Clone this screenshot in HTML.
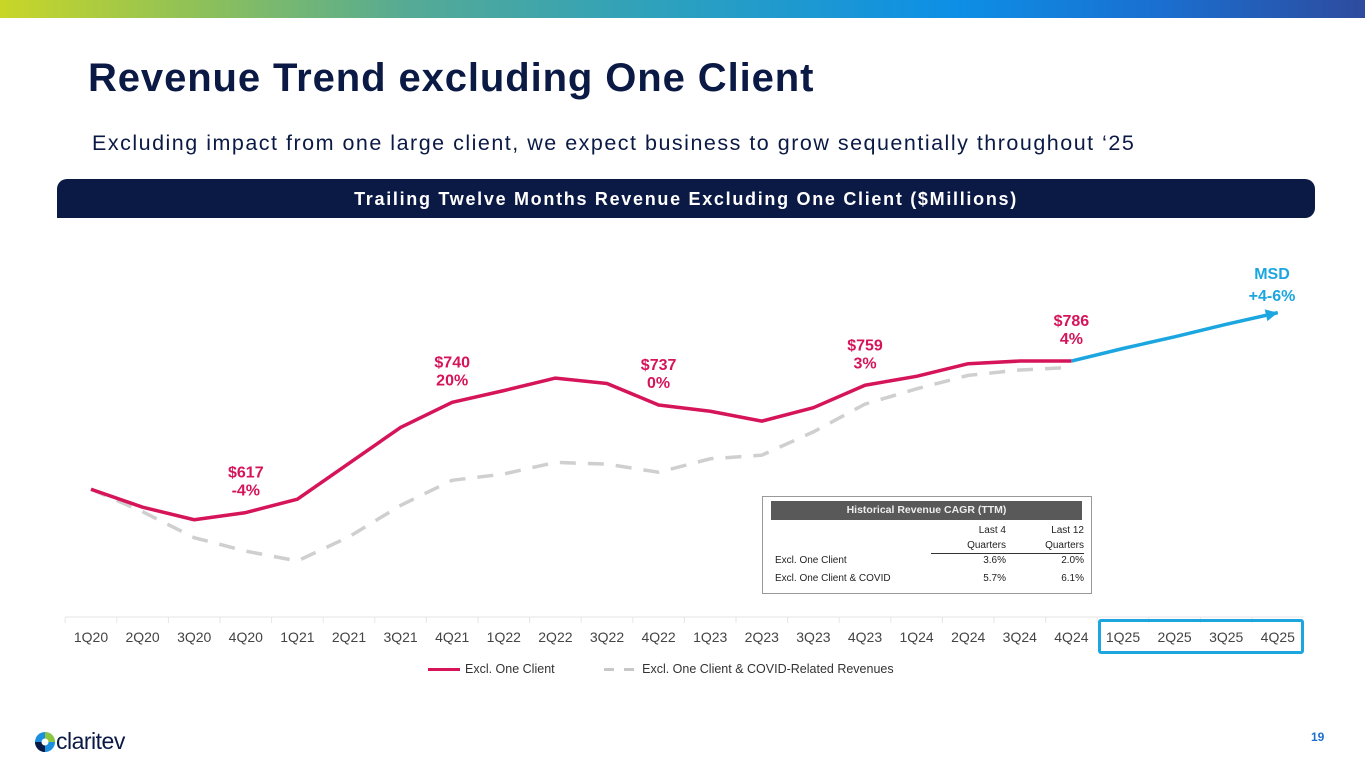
<!DOCTYPE html>
<html><head><meta charset="utf-8"><style>
body{margin:0;width:1365px;height:768px;overflow:hidden;background:#fff;font-family:"Liberation Sans",sans-serif;position:relative}
.abs{position:absolute}
</style></head><body>
<div class="abs" style="left:0;top:0;width:1365px;height:18px;background:linear-gradient(90deg,#c9d627 0%,#8cc05a 15%,#55aa95 30%,#2aa0c0 50%,#0d8fe6 70%,#1a6fd0 85%,#2e4b9e 100%)"></div>
<div class="abs" style="left:88px;top:56px;font-size:40px;font-weight:bold;color:#0b1a45;letter-spacing:0.9px;white-space:nowrap">Revenue Trend excluding One Client</div>
<div class="abs" style="left:92px;top:131px;font-size:21.5px;color:#0b1a45;letter-spacing:1.5px;white-space:nowrap">Excluding impact from one large client, we expect business to grow sequentially throughout ‘25</div>
<div class="abs" style="left:57px;top:179px;width:1258px;height:39px;background:#0b1a45;border-radius:10px 10px 10px 0;color:#fff;font-weight:bold;font-size:18px;letter-spacing:1.7px;text-align:center;line-height:40px">Trailing Twelve Months Revenue Excluding One Client ($Millions)</div>

<svg class="abs" style="left:0;top:0" width="1365" height="768">
<g id="axis"></g><g id="marks"></g><g id="labels"></g>
</svg>

<div class="abs" style="left:762px;top:496px;width:330px;height:98px;border:1px solid #999;box-sizing:border-box;font-size:10px;color:#222;line-height:12px">
 <div style="margin:4px 9px 0 8px;height:19px;background:#595959;color:#eee;font-weight:bold;text-align:center;line-height:19px;font-size:10.5px">Historical Revenue CAGR (TTM)</div>
 <div class="abs" style="left:180px;top:26px;width:63px;text-align:right;line-height:15px">Last 4<br>Quarters</div>
 <div class="abs" style="left:255px;top:26px;width:66px;text-align:right;line-height:15px">Last 12<br>Quarters</div>
 <div class="abs" style="left:168px;top:56px;width:153px;border-top:1px solid #333"></div>
 <div class="abs" style="left:12px;top:58px">Excl. One Client</div>
 <div class="abs" style="left:180px;top:58px;width:63px;text-align:right">3.6%</div>
 <div class="abs" style="left:255px;top:58px;width:66px;text-align:right">2.0%</div>
 <div class="abs" style="left:12px;top:76px">Excl. One Client &amp; COVID</div>
 <div class="abs" style="left:180px;top:76px;width:63px;text-align:right">5.7%</div>
 <div class="abs" style="left:255px;top:76px;width:66px;text-align:right">6.1%</div>
</div>

<div class="abs" style="left:1098px;top:619px;width:206px;height:35px;border:3px solid #1ba6e0;border-radius:3px;box-sizing:border-box"></div>

<div class="abs" style="left:428px;top:662px;font-size:12.5px;color:#333;white-space:nowrap">
 <span><span style="display:inline-block;width:32px;height:3px;background:#d6145a;vertical-align:middle;margin-right:5px"></span>Excl. One Client</span>
 <span style="margin-left:46px"><span style="display:inline-block;width:10px;height:3px;background:#c8c8c8;vertical-align:middle;margin-right:10px"></span><span style="display:inline-block;width:10px;height:3px;background:#c8c8c8;vertical-align:middle;margin-right:8px"></span>Excl. One Client &amp; COVID-Related Revenues</span>
</div>

<div class="abs" style="left:34px;top:728px;height:24px;white-space:nowrap">
 <svg width="22" height="22" style="vertical-align:middle"><circle cx="11" cy="11" r="10" fill="#1a8fe0"/><path d="M11 1 A10 10 0 0 1 21 11 L11 11Z" fill="#8cc63f"/><path d="M1 11 A10 10 0 0 0 11 21 L11 11Z" fill="#0b1a45"/><circle cx="11" cy="11" r="3.5" fill="#fff"/></svg><span style="font-size:23px;color:#0b1a45;vertical-align:middle;letter-spacing:-0.5px">claritev</span>
</div>
<div class="abs" style="left:1311px;top:730px;font-size:12px;font-weight:bold;color:#1a6fd0">19</div>

<script>
const categories=["1Q20","2Q20","3Q20","4Q20","1Q21","2Q21","3Q21","4Q21","1Q22","2Q22","3Q22","4Q22","1Q23","2Q23","3Q23","4Q23","1Q24","2Q24","3Q24","4Q24","1Q25","2Q25","3Q25","4Q25"];
const exclOneClient=[643,623,609,617,632,672,712,740,753,767,761,737,730,719,734,759,769,783,786,786];
const exclCovid=[643,618,589,574,563,590,625,653,660,673,671,662,677,681,707,738,755,770,776,779];
const forecastStartIdx=19;
const forecast=[786,800,813,827,840];
const annotations=[{i:3,v:617,t1:"$617",t2:"-4%"},{i:7,v:740,t1:"$740",t2:"20%"},{i:11,v:737,t1:"$737",t2:"0%"},{i:15,v:759,t1:"$759",t2:"3%"},{i:19,v:786,t1:"$786",t2:"4%"}];
const NS="http://www.w3.org/2000/svg";
const x=i=>91+i*51.6;
const y=v=>617.5-(v-500)*0.8967;
function mk(tag,attrs,parent){const e=document.createElementNS(NS,tag);for(const k in attrs)e.setAttribute(k,attrs[k]);document.getElementById(parent).appendChild(e);return e;}
const ax=mk('line',{x1:65,x2:1304,y1:617,y2:617,stroke:'#e6e6e6','stroke-width':1},'axis');


categories.forEach((c,i)=>{
 const tk=mk('line',{x1:x(i)-25.8,x2:x(i)-25.8,y1:617,y2:623,stroke:'#e6e6e6'},'axis');
 
 
 const t=mk('text',{x:x(i),y:642,'text-anchor':'middle','font-size':14,fill:'#444','font-family':'Liberation Sans'},'axis');
 t.textContent=c;
 
 
});
const pts=a=>a.map((v,i)=>x(i)+','+y(v)).join(' ');
const g=mk('polyline',{points:pts(exclCovid),fill:'none',stroke:'#cfcfcf','stroke-width':3.5,'stroke-dasharray':'16 12'},'marks');


const r=mk('polyline',{points:pts(exclOneClient),fill:'none',stroke:'#d6145a','stroke-width':3.5,'stroke-linejoin':'round'},'marks');


const fp=forecast.map((v,k)=>x(forecastStartIdx+k)+','+y(v)).join(' ');
const b=mk('polyline',{points:fp,fill:'none',stroke:'#1ba6e0','stroke-width':3.5},'marks');


const n=forecast.length-1,ex=x(forecastStartIdx+n),ey=y(forecast[n]),px=x(forecastStartIdx+n-1),py=y(forecast[n-1]);
const ang=Math.atan2(ey-py,ex-px),L=12,W=6;
const hx=ex-L*Math.cos(ang),hy=ey-L*Math.sin(ang);
const ah=mk('polygon',{points:`${ex},${ey} ${hx+W*Math.sin(ang)},${hy-W*Math.cos(ang)} ${hx-W*Math.sin(ang)},${hy+W*Math.cos(ang)}`,fill:'#1ba6e0'},'marks');


annotations.forEach(a=>{
 const t=mk('text',{x:x(a.i),y:y(a.v)-35,'text-anchor':'middle','font-size':16,'font-weight':'bold',fill:'#d6145a','font-family':'Liberation Sans'},'labels');
 t.textContent=a.t1;
 
 
 const t2=mk('text',{x:x(a.i),y:y(a.v)-17,'text-anchor':'middle','font-size':16,'font-weight':'bold',fill:'#d6145a','font-family':'Liberation Sans'},'labels');
 t2.textContent=a.t2;
 
 
});
const m1=mk('text',{x:1272,y:279,'text-anchor':'middle','font-size':16,'font-weight':'bold',fill:'#1ba6e0','font-family':'Liberation Sans'},'labels');
m1.textContent="MSD";


const m2=mk('text',{x:1272,y:301,'text-anchor':'middle','font-size':16,'font-weight':'bold',fill:'#1ba6e0','font-family':'Liberation Sans'},'labels');
m2.textContent="+4-6%";


</script>
</body></html>
